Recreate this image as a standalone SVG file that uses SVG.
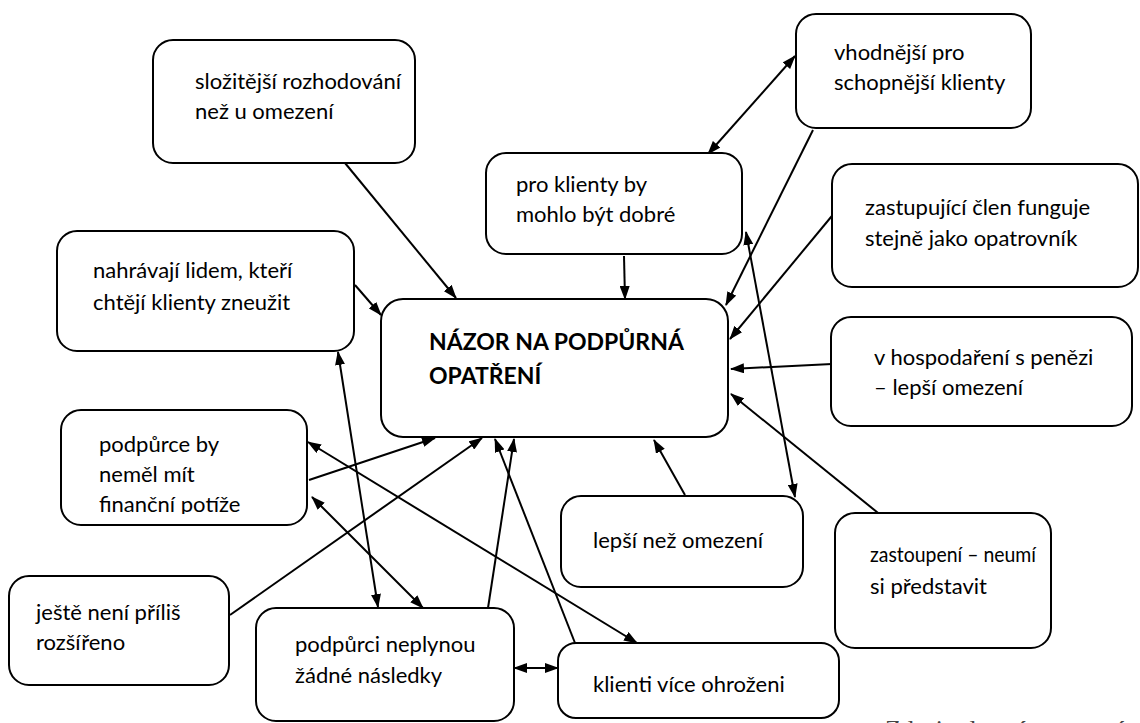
<svg xmlns="http://www.w3.org/2000/svg" width="1140" height="723" viewBox="0 0 1140 723">
  <style>
    .box { fill: #fff; stroke: #000; stroke-width: 2; }
    .lbl { font-family: Lato, "Open Sans", "Liberation Sans", sans-serif; font-size: 22px; fill: #000; }
    .title { font-family: Lato, "Open Sans", "Liberation Sans", sans-serif; font-size: 23px; font-weight: bold; fill: #000; }
    .src { font-family: "Liberation Serif", serif; font-size: 26px; fill: #444; }
    .edge { fill: none; stroke: #000; stroke-width: 2; }
    .one { marker-end: url(#ah); }
    .two { marker-start: url(#ah); marker-end: url(#ah); }
  </style>
  <defs>
    <marker id="ah" viewBox="0 0 14 10" refX="13" refY="5" markerWidth="14" markerHeight="10" markerUnits="userSpaceOnUse" orient="auto-start-reverse">
      <path d="M0,0 L14,5 L0,10 z" fill="#000"/>
    </marker>
    <clipPath id="cut">
      <rect x="0" y="0" width="400" height="514"/>
    </clipPath>
  </defs>

  <!-- connectors -->
  <g id="connectors">
    <path class="edge one" d="M345,163 L456,298"/>
    <path class="edge one" d="M355,285 L381,315"/>
    <path class="edge one" d="M624,256 L625,299"/>
    <path class="edge two" d="M795,56 L708,154"/>
    <path class="edge one" d="M813,130 L726,305"/>
    <path class="edge one" d="M836,211 L730,339"/>
    <path class="edge one" d="M832,364 L731,369"/>
    <path class="edge one" d="M888,521 L731,394"/>
    <path class="edge one" d="M685,495 L654,440"/>
    <path class="edge two" d="M746,232 L795,497"/>
    <path class="edge one" d="M309,480 L435,438"/>
    <path class="edge one" d="M230,615 L482,438"/>
    <path class="edge two" d="M308,442 L637,643"/>
    <path class="edge two" d="M312,497 L423,608"/>
    <path class="edge two" d="M338,352 L378,607"/>
    <path class="edge one" d="M488,608 L514,439"/>
    <path class="edge one" d="M575,643 L495,439"/>
    <path class="edge two" d="M514,668 L558,668"/>
  </g>

  <!-- nodes -->
  <g id="n-slozitejsi">
    <rect class="box" x="153" y="40" width="262" height="123" rx="20"/>
    <text class="lbl" x="195" y="89">složitější rozhodování</text>
    <text class="lbl" x="195" y="119">než u omezení</text>
  </g>

  <g id="n-nahravaji">
    <rect class="box" x="57" y="231" width="297" height="120" rx="20"/>
    <text class="lbl" x="93" y="278">nahrávají lidem, kteří</text>
    <text class="lbl" x="93" y="310">chtějí klienty zneužit</text>
  </g>

  <g id="n-nazor">
    <rect class="box" x="381" y="299" width="347" height="138" rx="22"/>
    <text class="title" x="429" y="350">NÁZOR NA PODPŮRNÁ</text>
    <text class="title" x="429" y="384">OPATŘENÍ</text>
  </g>

  <g id="n-proklienty">
    <rect class="box" x="486" y="153" width="256" height="101" rx="20"/>
    <text class="lbl" x="516" y="192">pro klienty by</text>
    <text class="lbl" x="516" y="222">mohlo být dobré</text>
  </g>

  <g id="n-vhodnejsi">
    <rect class="box" x="796" y="14" width="235" height="114" rx="20"/>
    <text class="lbl" x="834" y="60">vhodnější pro</text>
    <text class="lbl" x="834" y="90">schopnější klienty</text>
  </g>

  <g id="n-zastupujici">
    <rect class="box" x="832" y="164" width="306" height="123" rx="20"/>
    <text class="lbl" x="865" y="215">zastupující člen funguje</text>
    <text class="lbl" x="865" y="246">stejně jako opatrovník</text>
  </g>

  <g id="n-hospodareni">
    <rect class="box" x="831" y="317" width="301" height="109" rx="20"/>
    <text class="lbl" x="874" y="365">v hospodaření s penězi</text>
    <text class="lbl" x="874" y="395">– lepší omezení</text>
  </g>

  <g id="n-zastoupeni">
    <rect class="box" x="835" y="513" width="216" height="135" rx="20"/>
    <text class="lbl" x="870" y="562" textLength="166" lengthAdjust="spacingAndGlyphs">zastoupení – neumí</text>
    <text class="lbl" x="870" y="594">si představit</text>
  </g>

  <g id="n-lepsi">
    <rect class="box" x="561" y="496" width="242" height="91" rx="20"/>
    <text class="lbl" x="593" y="548">lepší než omezení</text>
  </g>

  <g id="n-podpurce">
    <rect class="box" x="61" y="410" width="246" height="115" rx="20"/>
    <text class="lbl" x="99" y="452">podpůrce by</text>
    <text class="lbl" x="99" y="482">neměl mít</text>
    <text class="lbl" x="99" y="512" clip-path="url(#cut)">finanční potíže</text>
  </g>

  <g id="n-jeste">
    <rect class="box" x="9" y="576" width="220" height="109" rx="20"/>
    <text class="lbl" x="36" y="620">ještě není příliš</text>
    <text class="lbl" x="36" y="650">rozšířeno</text>
  </g>

  <g id="n-podpurci">
    <rect class="box" x="256" y="608" width="258" height="113" rx="20"/>
    <text class="lbl" x="295" y="652">podpůrci neplynou</text>
    <text class="lbl" x="295" y="683">žádné následky</text>
  </g>

  <g id="n-klienti">
    <rect class="box" x="558" y="643" width="281" height="75" rx="18"/>
    <text class="lbl" x="593" y="692">klienti více ohroženi</text>
  </g>

  <!-- source line, running off the lower edge -->
  <text class="src" x="885" y="738">Zdroj: vlastní zpracování</text>
</svg>
